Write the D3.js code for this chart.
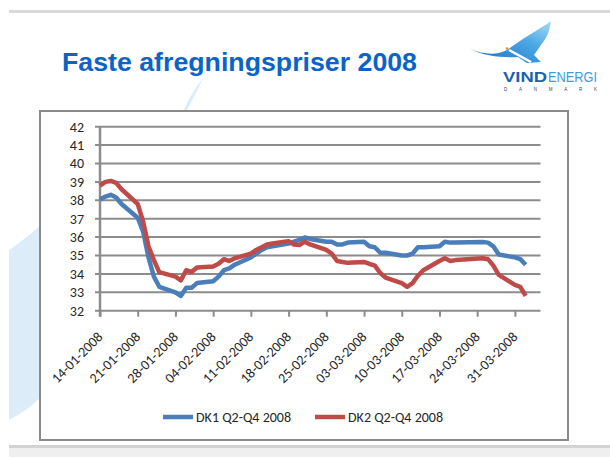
<!DOCTYPE html>
<html>
<head>
<meta charset="utf-8">
<script src="https://cdn.jsdelivr.net/npm/d3@7"></script>
<style>
  html, body { margin: 0; padding: 0; background: #fff; }
  svg { display: block; }
  .tick-label { font-family: Carlito, Calibri, "Liberation Sans", Arial, sans-serif; fill: #262626; }
</style>
</head>
<body>
<div id="chart"></div>
<script>
// Trading days shown on the chart
const dates = [
  '14-01-2008', '15-01-2008', '16-01-2008', '17-01-2008', '18-01-2008',
  '21-01-2008', '22-01-2008', '23-01-2008', '24-01-2008', '25-01-2008',
  '28-01-2008', '29-01-2008', '30-01-2008', '31-01-2008', '01-02-2008',
  '04-02-2008', '05-02-2008', '06-02-2008', '07-02-2008', '08-02-2008',
  '11-02-2008', '12-02-2008', '13-02-2008', '14-02-2008', '15-02-2008',
  '18-02-2008', '19-02-2008', '20-02-2008', '21-02-2008', '22-02-2008',
  '25-02-2008', '26-02-2008', '27-02-2008', '28-02-2008', '29-02-2008',
  '03-03-2008', '04-03-2008', '05-03-2008', '06-03-2008', '07-03-2008',
  '10-03-2008', '11-03-2008', '12-03-2008', '13-03-2008', '14-03-2008',
  '17-03-2008', '18-03-2008', '19-03-2008', '20-03-2008',
  '25-03-2008', '26-03-2008', '27-03-2008', '28-03-2008',
  '31-03-2008', '01-04-2008', '02-04-2008'
];

const dk1Values = [
  38.05, 38.2, 38.3, 38.15, 37.8,
  37.05, 36.3, 34.9, 33.85, 33.3,
  33.0, 32.8, 33.25, 33.25, 33.5,
  33.6, 33.85, 34.2, 34.3, 34.5,
  34.9, 35.1, 35.3, 35.45, 35.5,
  35.65, 35.75, 35.85, 35.98, 35.9,
  35.75, 35.75, 35.6, 35.6, 35.7,
  35.75, 35.5, 35.45, 35.15, 35.15,
  35.0, 35.0, 35.1, 35.45, 35.45,
  35.5, 35.75, 35.7, 35.7,
  35.73, 35.7, 35.5, 35.05,
  34.9, 34.8, 34.5
];

const dk2Values = [
  38.8, 39.0, 39.05, 38.95, 38.6,
  37.8, 36.85, 35.5, 34.75, 34.1,
  33.85, 33.65, 34.2, 34.1, 34.35,
  34.4, 34.55, 34.8, 34.7, 34.85,
  35.1, 35.3, 35.45, 35.6, 35.65,
  35.78, 35.6, 35.57, 35.75, 35.6,
  35.3, 35.1, 34.7, 34.65, 34.6,
  34.65, 34.55, 34.45, 34.05, 33.8,
  33.5, 33.3, 33.5, 33.9, 34.2,
  34.7, 34.85, 34.7, 34.75,
  34.85, 34.8, 34.45, 33.95,
  33.4, 33.3, 32.8
];

const seriesNames = ['DK1 Q2-Q4 2008', 'DK2 Q2-Q4 2008'];
const seriesColors = ['#4a7ebb', '#be4b48'];

const xTickLabels = [
  '14-01-2008', '21-01-2008', '28-01-2008', '04-02-2008', '11-02-2008', '18-02-2008',
  '25-02-2008', '03-03-2008', '10-03-2008', '17-03-2008', '24-03-2008', '31-03-2008'
];
const yTickValues = [32, 33, 34, 35, 36, 37, 38, 39, 40, 41, 42];

const parseDate = d3.utcParse('%d-%m-%Y');

class PriceSlide {
  constructor(selector) {
    this.width = 610;
    this.height = 457;
    this.plot = { left: 100, right: 540.5, top: 126.7, bottom: 310.7 };
    this.svg = d3.select(selector)
      .append('svg')
      .attr('width', this.width)
      .attr('height', this.height);
    this.render();
  }

  render() {
    this.drawBackground();
    this.drawHeader();
    this.drawLogo();
    this.drawChartBox();
    this.drawAxes();
    this.drawLines();
    this.drawLegend();
  }

  drawBackground() {
    // light blue swoosh behind the chart frame
    this.svg.append('path')
      .attr('d', 'M9,250 C18,244 28,236 40,226 L40,398 C30,408 20,414 9,420 Z')
      .attr('fill', '#dcedf9');
    this.svg.append('path')
      .attr('d', 'M203,78 C198,90 192,100 186,112 L183,112 C188,100 195,88 203,78 Z')
      .attr('fill', '#dcedf9');

    this.svg.append('rect')
      .attr('x', 9).attr('y', 10).attr('width', 601).attr('height', 3)
      .attr('fill', '#d9d9d9');

    this.svg.append('rect')
      .attr('x', 9).attr('y', 445).attr('width', 601).attr('height', 3)
      .attr('fill', '#d2d2d2');
    this.svg.append('rect')
      .attr('x', 9).attr('y', 448).attr('width', 601).attr('height', 9)
      .attr('fill', '#efefef');
  }

  drawHeader() {
    this.svg.append('text')
      .attr('x', 62)
      .attr('y', 71)
      .attr('font-family', '"Liberation Sans", Arial, sans-serif')
      .attr('font-weight', 'bold')
      .attr('font-size', 26)
      .attr('fill', '#0a64c8')
      .attr('textLength', 355)
      .attr('lengthAdjust', 'spacingAndGlyphs')
      .text('Faste afregningspriser 2008');
  }

  drawLogo() {
    const defs = this.svg.append('defs');
    const grad = defs.append('linearGradient')
      .attr('id', 'wing')
      .attr('x1', '0').attr('y1', '1').attr('x2', '1').attr('y2', '0');
    grad.append('stop').attr('offset', '0').attr('stop-color', '#1a6cc0');
    grad.append('stop').attr('offset', '0.6').attr('stop-color', '#4aa6e4');
    grad.append('stop').attr('offset', '1').attr('stop-color', '#a6dbf6');

    const logo = this.svg.append('g');
    logo.append('path')
      .attr('d', 'M470,49 C484,55 498,55 507,50 L520,41 C532,33 543,27 551,21 C550,30 547,38 541,45 L534,55 L541,62 L527,63 L518,57 C503,58 484,56 470,49 Z')
      .attr('fill', 'url(#wing)');
    logo.append('path')
      .attr('d', 'M509,50 L531,62')
      .attr('stroke', '#fff')
      .attr('stroke-width', 2.5);
    logo.append('circle')
      .attr('cx', 507).attr('cy', 48.5).attr('r', 1.3)
      .attr('fill', '#f08a24');

    logo.append('text')
      .attr('x', 503).attr('y', 82)
      .attr('font-family', '"Liberation Sans", Arial, sans-serif')
      .attr('font-size', 14.5)
      .attr('font-weight', 'bold')
      .attr('fill', '#1b63ad')
      .attr('textLength', 44)
      .attr('lengthAdjust', 'spacingAndGlyphs')
      .text('VIND');
    logo.append('text')
      .attr('x', 548).attr('y', 82)
      .attr('font-family', '"Liberation Sans Narrow", "Liberation Sans", Arial, sans-serif')
      .attr('font-size', 14.5)
      .attr('fill', '#3b9ed9')
      .attr('textLength', 49)
      .attr('lengthAdjust', 'spacingAndGlyphs')
      .text('ENERGI');
    logo.append('text')
      .attr('x', 504).attr('y', 91)
      .attr('font-family', '"Liberation Sans", Arial, sans-serif')
      .attr('font-size', 4.5)
      .attr('fill', '#444')
      .attr('textLength', 93)
      .text('DANMARK');
  }

  drawChartBox() {
    this.svg.append('rect')
      .attr('x', 40).attr('y', 111)
      .attr('width', 528).attr('height', 329)
      .attr('fill', '#fff')
      .attr('stroke', '#8a8a8a')
      .attr('stroke-width', 2);
  }

  drawAxes() {
    const p = this.plot;
    this.x = d3.scaleUtc()
      .domain([parseDate(dates[0]), new Date(Date.UTC(2008, 3, 4, 18))])
      .range([p.left, p.right]);
    this.y = d3.scaleLinear()
      .domain([32, 42])
      .range([p.bottom, p.top]);

    const grid = this.svg.append('g');
    grid.selectAll('line')
      .data(yTickValues)
      .enter()
      .append('line')
      .attr('x1', p.left - 5)
      .attr('x2', p.right)
      .attr('y1', d => this.y(d))
      .attr('y2', d => this.y(d))
      .attr('stroke', '#8c8c8c')
      .attr('stroke-width', 2);

    const yAxis = this.svg.append('g')
      .attr('transform', `translate(${p.left},0)`)
      .call(d3.axisLeft(this.y).tickValues(yTickValues).tickSize(0).tickPadding(16));
    yAxis.select('.domain')
      .attr('stroke', '#8c8c8c')
      .attr('stroke-width', 2.5)
      .attr('d', `M0,${p.top}V${p.bottom + 6}`);
    yAxis.selectAll('text')
      .attr('class', 'tick-label')
      .attr('font-size', 14);

    const xAxis = this.svg.append('g')
      .attr('transform', `translate(0,${p.bottom})`)
      .call(d3.axisBottom(this.x)
        .tickValues(xTickLabels.map(parseDate))
        .tickSize(6)
        .tickFormat(d3.utcFormat('%d-%m-%Y')));
    xAxis.select('.domain').remove();
    xAxis.selectAll('.tick line')
      .attr('stroke', '#8c8c8c')
      .attr('stroke-width', 2);
    xAxis.selectAll('text')
      .attr('class', 'tick-label')
      .attr('font-size', 14)
      .attr('text-anchor', 'end')
      .attr('y', 0)
      .attr('dy', 0)
      .attr('transform', 'translate(3,27) rotate(-45)');
  }

  drawLines() {
    const rows = dates.map((d, i) => ({ date: parseDate(d), dk1: dk1Values[i], dk2: dk2Values[i] }));
    const keys = ['dk1', 'dk2'];

    keys.forEach((key, i) => {
      const line = d3.line()
        .x(d => this.x(d.date))
        .y(d => this.y(d[key]));
      this.svg.append('path')
        .datum(rows)
        .attr('d', line)
        .attr('fill', 'none')
        .attr('stroke', seriesColors[i])
        .attr('stroke-width', 4.5)
        .attr('stroke-linejoin', 'round')
        .attr('stroke-linecap', 'butt');
    });
  }

  drawLegend() {
    const items = [{ x: 163 }, { x: 315 }];
    const legend = this.svg.selectAll('.legend')
      .data(seriesNames)
      .enter()
      .append('g')
      .attr('class', 'legend')
      .attr('transform', (d, i) => `translate(${items[i].x},417)`);

    legend.append('line')
      .attr('x1', 0).attr('x2', 30)
      .attr('y1', 0).attr('y2', 0)
      .attr('stroke', (d, i) => seriesColors[i])
      .attr('stroke-width', 4.5);

    legend.append('text')
      .attr('class', 'tick-label')
      .attr('x', 33)
      .attr('y', 5)
      .attr('font-size', 14)
      .text(d => d);
  }
}

document.addEventListener('DOMContentLoaded', () => {
  new PriceSlide('#chart');
});
</script>
</body>
</html>
